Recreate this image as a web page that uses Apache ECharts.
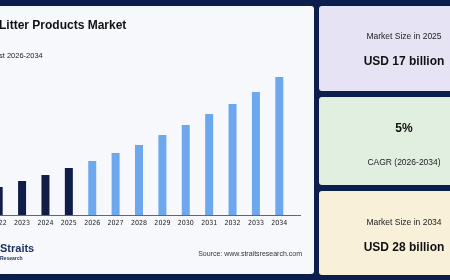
<!DOCTYPE html>
<html>
<head>
<meta charset="utf-8">
<script src="https://cdn.jsdelivr.net/npm/echarts@6/dist/echarts.min.js"></script>
<style>
  html, body { margin: 0; padding: 0; background: #0b1e4c; }
  #chart { width: 450px; height: 280px; }
</style>
</head>
<body>
<div id="chart"></div>
<script>
// years on the x axis
const years = ["2022", "2023", "2024", "2025", "2026", "2027", "2028", "2029", "2030", "2031", "2032", "2033", "2034"];
// bar heights (relative market size)
const marketValues = [2.8, 3.4, 4.0, 4.7, 5.4, 6.2, 7.0, 8.0, 9.0, 10.1, 11.1, 12.3, 13.8];
// last historical year, after it bars are forecast
const lastActualYear = "2025";

const navy = "#0f1d48";
const lightBlue = "#6da8ee";
const font = "Liberation Sans, Arial, sans-serif";

const chart = echarts.init(document.getElementById("chart"));

const option = {
  backgroundColor: "#0b1e4c",
  animation: false,
  grid: {
    left: -13,
    top: 77,
    width: 304,
    height: 138,
    outerBoundsMode: "none",
  },
  xAxis: {
    type: "category",
    data: years,
    axisLine: { show: false },
    axisTick: { show: false },
    axisLabel: {
      fontSize: 7,
      margin: 5,
      color: "#222",
      fontFamily: "DejaVu Sans Condensed, DejaVu Sans, sans-serif",
    },
  },
  yAxis: {
    type: "value",
    min: 0,
    max: 13.8,
    show: false,
    splitLine: { show: false },
  },
  series: [
    {
      type: "bar",
      barWidth: 8,
      data: marketValues,
      itemStyle: {
        color: (params) => (years[params.dataIndex] <= lastActualYear ? navy : lightBlue),
      },
    },
  ],
  graphic: [
    // main white card
    { type: "rect", z: -10, shape: { x: -10, y: 6, width: 324, height: 268, r: 3 }, style: { fill: "#f6f8fc" } },
    // side cards
    { type: "rect", z: -10, shape: { x: 319, y: 6, width: 140, height: 85, r: 3 }, style: { fill: "#e6e4f4" } },
    { type: "rect", z: -10, shape: { x: 319, y: 97, width: 140, height: 88, r: 3 }, style: { fill: "#e1efe0" } },
    { type: "rect", z: -10, shape: { x: 319, y: 191, width: 140, height: 84, r: 3 }, style: { fill: "#f8f0d8" } },
    // baseline
    { type: "line", z: 5, shape: { x1: 0, y1: 215.5, x2: 301, y2: 215.5 }, style: { stroke: "#666", lineWidth: 1 } },
    // titles
    { type: "text", z: 10, left: -1, top: 20, style: { text: "Litter Products Market", fill: "#111", font: "bold 12px " + font } },
    { type: "text", z: 10, left: -1, top: 52, style: { text: "st 2026-2034", fill: "#222", font: "7.5px " + font } },
    // logo and source
    { type: "text", z: 10, left: 0, top: 243, style: { text: "Straits", fill: "#1b2f5e", font: "bold 11px " + font } },
    { type: "text", z: 10, left: 0, top: 256, style: { text: "Research", fill: "#1b2f5e", font: "bold 5px " + font } },
    { type: "text", z: 10, x: 302, y: 254, style: { text: "Source: www.straitsresearch.com", fill: "#333", font: "7px " + font, align: "right", verticalAlign: "middle" } },
    // side card texts
    { type: "text", z: 10, x: 404, y: 37, style: { text: "Market Size in 2025", fill: "#222", font: "8.5px " + font, align: "center", verticalAlign: "middle" } },
    { type: "text", z: 10, x: 404, y: 62, style: { text: "USD 17 billion", fill: "#111", font: "bold 12px " + font, align: "center", verticalAlign: "middle" } },
    { type: "text", z: 10, x: 404, y: 129, style: { text: "5%", fill: "#111", font: "bold 12px " + font, align: "center", verticalAlign: "middle" } },
    { type: "text", z: 10, x: 404, y: 163, style: { text: "CAGR (2026-2034)", fill: "#222", font: "8.5px " + font, align: "center", verticalAlign: "middle" } },
    { type: "text", z: 10, x: 404, y: 223, style: { text: "Market Size in 2034", fill: "#222", font: "8.5px " + font, align: "center", verticalAlign: "middle" } },
    { type: "text", z: 10, x: 404, y: 248, style: { text: "USD 28 billion", fill: "#111", font: "bold 12px " + font, align: "center", verticalAlign: "middle" } },
  ],
};

chart.setOption(option);
window.addEventListener("resize", () => chart.resize());
</script>
</body>
</html>
